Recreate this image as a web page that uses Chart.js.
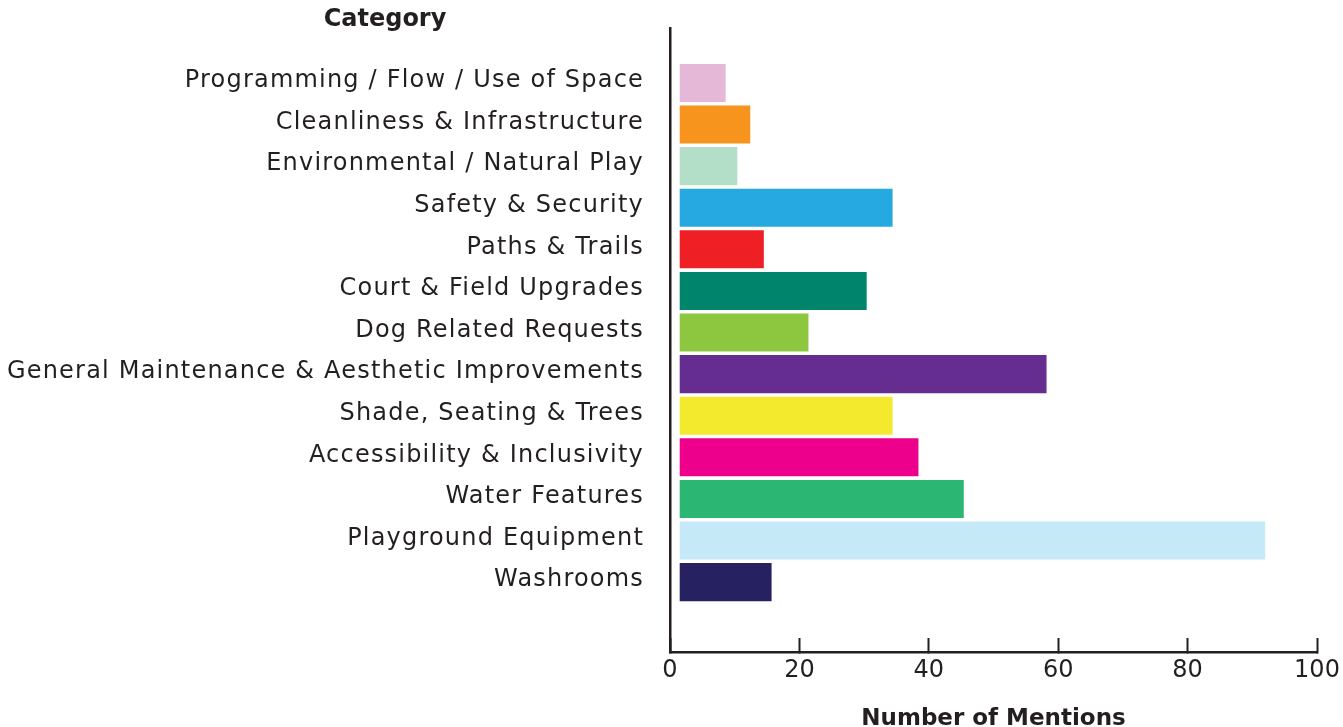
<!DOCTYPE html>
<html>
<head>
<meta charset="utf-8">
<script src="https://cdn.jsdelivr.net/npm/chart.js@4/dist/chart.umd.min.js"></script>
<style>
  body { margin: 0; background: #ffffff; }
  #wrap { width: 1343px; height: 727px; }
</style>
</head>
<body>
<div id="wrap"><canvas id="mentionsChart" width="1343" height="727"></canvas></div>
<script>
var categories = [
    'Programming / Flow / Use of Space',
    'Cleanliness & Infrastructure',
    'Environmental / Natural Play',
    'Safety & Security',
    'Paths & Trails',
    'Court & Field Upgrades',
    'Dog Related Requests',
    'General Maintenance & Aesthetic Improvements',
    'Shade, Seating & Trees',
    'Accessibility & Inclusivity',
    'Water Features',
    'Playground Equipment',
    'Washrooms'
];

var mentions = [8.6, 12.4, 10.4, 34.4, 14.5, 30.4, 21.4, 58.2, 34.4, 38.4, 45.4, 92.0, 15.7];

var barColors = [
    '#e6b8d7', '#f7941d', '#b3dec8', '#25a9e0', '#ee1f25', '#00846c', '#8dc63f',
    '#652d90', '#f3ea2d', '#ec008c', '#2bb673', '#c6e9f8', '#262262'
];

var xTicks = [0, 20, 40, 60, 80, 100];

var ink = '#231f20';
var fontFamily = '"DejaVu Sans", sans-serif';

// the original typeface is wider, so open up the category labels a bit
// (y axis is drawn before the bars, x axis layers after them with z: 1)
var wideText = {
    id: 'wideText',
    beforeDraw: function(chart) {
        chart.ctx.letterSpacing = '1.2px';
    },
    afterDatasetsDraw: function(chart) {
        chart.ctx.letterSpacing = '0px';
    }
};

// "Category" heading sits over the label column, not centred on the canvas
var categoryHeading = {
    id: 'categoryHeading',
    afterDraw: function(chart) {
        var ctx = chart.ctx;
        ctx.save();
        ctx.letterSpacing = '0px';
        ctx.font = 'bold 24px ' + fontFamily;
        ctx.fillStyle = ink;
        ctx.textAlign = 'center';
        ctx.textBaseline = 'middle';
        ctx.fillText('Category', chart.chartArea.left - 285, 20);
        ctx.restore();
    }
};

var canvas = document.getElementById('mentionsChart');

var chart = new Chart(canvas, {
    type: 'bar',
    data: {
        datasets: [{
            label: 'Number of Mentions',
            data: mentions.map((v, i) => ({ x: v, y: i })),
            backgroundColor: barColors,
            borderWidth: 0,
            base: 1.5,
            barPercentage: 0.915,
            categoryPercentage: 1
        }]
    },
    options: {
        indexAxis: 'y',
        responsive: false,
        animation: false,
        layout: {
            padding: { top: 28, right: 26, left: 0, bottom: 0 }
        },
        scales: {
            x: {
                type: 'linear',
                position: 'bottom',
                min: 0,
                max: 100,
                afterBuildTicks: function(scale) {
                    scale.ticks = xTicks.map(v => ({ value: v }));
                },
                afterFit: function(scale) {
                    scale.height = 75;
                    scale.paddingLeft = 0;
                    scale.paddingRight = 0;
                },
                grid: {
                    z: 1,
                    drawOnChartArea: false,
                    drawTicks: true,
                    tickLength: -14,
                    tickWidth: 2,
                    color: ink
                },
                border: { z: 1, color: ink, width: 2.5 },
                ticks: {
                    z: 1,
                    color: ink,
                    padding: 18,
                    maxRotation: 0,
                    font: { family: fontFamily, size: 24 }
                },
                title: {
                    display: true,
                    text: 'Number of Mentions',
                    color: ink,
                    padding: { top: 0, bottom: -6 },
                    font: { family: fontFamily, size: 23, weight: 'bold' }
                }
            },
            y: {
                type: 'linear',
                bounds: 'data',
                offset: false,
                reverse: true,
                min: -1.32,
                max: 13.68,
                afterBuildTicks: function(scale) {
                    scale.ticks = categories.map((c, i) => ({ value: i }));
                },
                afterFit: function(scale) {
                    scale.width = 670;
                    scale.paddingTop = 0;
                    scale.paddingBottom = 0;
                },
                grid: { display: false },
                border: { color: ink, width: 2.5 },
                ticks: {
                    autoSkip: false,
                    color: ink,
                    padding: 18,
                    labelOffset: -2,
                    font: { family: fontFamily, size: 24 },
                    callback: function(value) {
                        return categories[value];
                    }
                }
            }
        },
        plugins: {
            legend: { display: false },
            tooltip: { enabled: false }
        }
    },
    plugins: [wideText, categoryHeading]
});
</script>
</body>
</html>
